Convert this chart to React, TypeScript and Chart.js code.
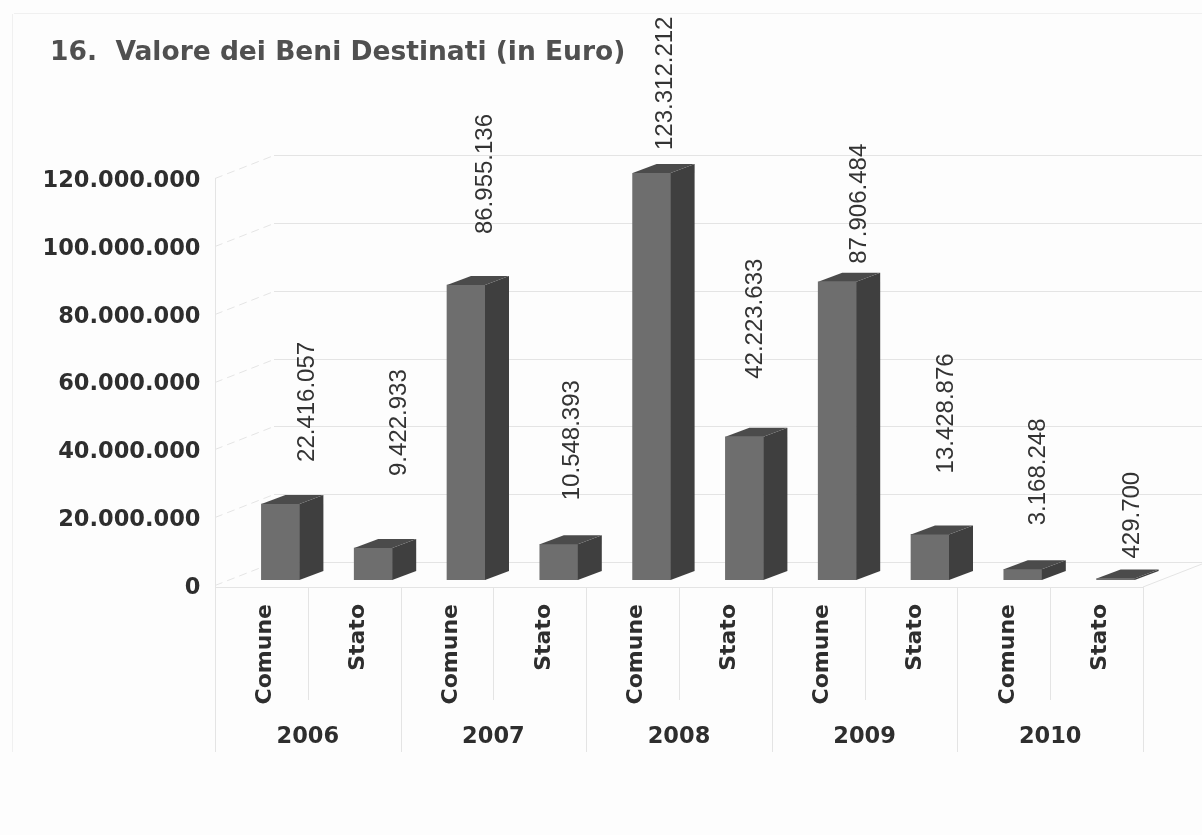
import React, { useEffect, useRef } from "react";
import { Chart, registerables } from "chart.js";

Chart.register(...registerables);

const categories = ["Comune", "Stato", "Comune", "Stato", "Comune", "Stato", "Comune", "Stato", "Comune", "Stato"];
const years = ["2006", "2007", "2008", "2009", "2010"];
const values = [22416057, 9422933, 86955136, 10548393, 123312212, 42223633, 87906484, 13428876, 3168248, 429700];
const valueLabels = ["22.416.057", "9.422.933", "86.955.136", "10.548.393", "123.312.212", "42.223.633", "87.906.484", "13.428.876", "3.168.248", "429.700"];
// label placement relative to the bar's top back edge: gap above it and sideways shift
const labelGap = [33, 63, 42, 35, 14, 49, 9, 52, 35, 11];
const labelShift = [27, 26, 19, 14, 14, 11, 22, 16, 16, 17];

const FRONT_DX = 19, FRONT_DY = -8;
const BAR_DX = 24, BAR_DY = -9;
const WALL_DX = 59, WALL_DY = -23;
const LINE_DY = -3;
const TITLE_X = 50;
const GRID = "#e4e4e4";
const SANS = "'DejaVu Sans'";

const fmt = (v: number) => String(v).replace(/\B(?=(\d{3})+(?!\d))/g, ".");

const chrome = {
  id: "chrome",
  afterLayout(chart: any) {
    if (chart.titleBlock) {
      chart.titleBlock.left = TITLE_X;
      chart.titleBlock.right += TITLE_X;
    }
  },
  beforeDatasetsDraw(chart: any) {
    const { ctx, chartArea: a, scales } = chart;
    const y = scales.y, x = scales.x;
    const base = a.bottom - 1;
    ctx.save();
    ctx.strokeStyle = "#f0f0f0";
    ctx.lineWidth = 1;
    ctx.beginPath();
    ctx.moveTo(12.5, 14); ctx.lineTo(12.5, 752);
    ctx.moveTo(14, 13.5); ctx.lineTo(1202, 13.5);
    ctx.stroke();

    ctx.strokeStyle = GRID;
    for (const t of y.ticks) {
      const py = Math.round(y.getPixelForValue(t.value)) + LINE_DY + 0.5;
      ctx.setLineDash([8, 5]);
      ctx.beginPath();
      ctx.moveTo(a.left, py);
      ctx.lineTo(a.left + WALL_DX, py + WALL_DY);
      ctx.stroke();
      ctx.setLineDash([]);
      ctx.beginPath();
      ctx.moveTo(a.left + WALL_DX, py + WALL_DY);
      ctx.lineTo(a.right + WALL_DX, py + WALL_DY);
      ctx.stroke();
    }
    ctx.beginPath();
    ctx.moveTo(a.left + 0.5, a.top + LINE_DY);
    ctx.lineTo(a.left + 0.5, 752);
    ctx.moveTo(a.left, base + 0.5);
    ctx.lineTo(a.right, base + 0.5);
    ctx.moveTo(a.right, base);
    ctx.lineTo(a.right + WALL_DX, base + WALL_DY);
    ctx.stroke();
    // category separators below the axis
    const half = (x.getPixelForTick(1) - x.getPixelForTick(0)) / 2;
    ctx.beginPath();
    categories.forEach((_, i) => {
      const px = Math.round(x.getPixelForTick(i) + half) + 0.5;
      ctx.moveTo(px, base);
      ctx.lineTo(px, i % 2 === 1 ? 752 : 700);
    });
    ctx.stroke();
    ctx.restore();

    ctx.save();
    ctx.translate(FRONT_DX, FRONT_DY);
  },
  afterDatasetsDraw(chart: any) {
    const { ctx, chartArea: a } = chart;
    ctx.restore();
    const meta = chart.getDatasetMeta(0);
    meta.data.forEach((bar: any, i: number) => {
      const half = bar.width / 2;
      const l = bar.x - half + FRONT_DX;
      const r = bar.x + half + FRONT_DX;
      const b = bar.base + FRONT_DY;
      const t = Math.max(bar.y, a.top) + FRONT_DY;
      ctx.save();
      ctx.fillStyle = "#3f3f3f";
      ctx.beginPath();
      ctx.moveTo(r, t);
      ctx.lineTo(r + BAR_DX, t + BAR_DY);
      ctx.lineTo(r + BAR_DX, b + BAR_DY);
      ctx.lineTo(r, b);
      ctx.closePath();
      ctx.fill();
      ctx.fillStyle = "#4b4b4b";
      ctx.beginPath();
      ctx.moveTo(l, t);
      ctx.lineTo(l + BAR_DX, t + BAR_DY);
      ctx.lineTo(r + BAR_DX, t + BAR_DY);
      ctx.lineTo(r, t);
      ctx.closePath();
      ctx.fill();

      const lx = bar.x + FRONT_DX + labelShift[i];
      const ly = t + BAR_DY - labelGap[i];
      ctx.translate(lx, ly);
      ctx.rotate(-Math.PI / 2);
      ctx.fillStyle = "#333333";
      ctx.font = "24px 'Liberation Sans'";
      ctx.textAlign = "left";
      ctx.textBaseline = "middle";
      ctx.fillText(valueLabels[i], 0, 0);
      ctx.restore();
    });
  },
};

export default function App() {
  const ref = useRef<HTMLCanvasElement>(null);
  useEffect(() => {
    document.body.style.margin = "0";
    document.body.style.background = "#fdfdfd";
    const chart = new Chart(ref.current!, {
      type: "bar",
      data: {
        labels: categories,
        datasets: [{ data: values, backgroundColor: "#6e6e6e", barThickness: 38, borderWidth: 0 }],
      },
      plugins: [chrome],
      options: {
        animation: false,
        responsive: false,
        layout: { padding: { left: 0, right: 59, top: 37.5, bottom: 80 } },
        plugins: {
          legend: { display: false },
          tooltip: { enabled: false },
          title: {
            display: true,
            text: "16.  Valore dei Beni Destinati (in Euro)",
            align: "start",
            color: "#505050",
            font: { family: SANS, size: 26.5, weight: "bold" },
            padding: { top: 0, bottom: 111.7 },
          },
        },
        scales: {
          x: {
            type: "category",
            position: "bottom",
            labels: categories,
            grid: { display: false },
            border: { display: false },
            ticks: {
              autoSkip: false,
              maxRotation: 90,
              minRotation: 90,
              padding: 8,
              labelOffset: 4,
              color: "#2e2e2e",
              font: { family: SANS, size: 22, weight: "bold" },
            },
            afterFit(s: any) { s.height = 127; },
          },
          x2: {
            type: "category",
            position: "bottom",
            labels: years,
            offset: true,
            grid: { display: false },
            border: { display: false },
            ticks: {
              maxRotation: 0,
              minRotation: 0,
              padding: 1,
              color: "#2e2e2e",
              font: { family: SANS, size: 22.5, weight: "bold" },
            },
            afterFit(s: any) { s.height = 40; },
          },
          y: {
            min: 0,
            max: 120000000,
            position: "left",
            grid: { display: false },
            border: { display: false },
            ticks: {
              stepSize: 20000000,
              padding: 6.5,
              color: "#2e2e2e",
              font: { family: SANS, size: 22.5, weight: "bold" },
              callback: (v: any) => fmt(Number(v)),
            },
            afterFit(s: any) { s.width = 215; },
          },
        },
      },
    } as any);
    return () => chart.destroy();
  }, []);
  return <canvas ref={ref} width={1202} height={835} style={{ display: "block" }} />;
}
